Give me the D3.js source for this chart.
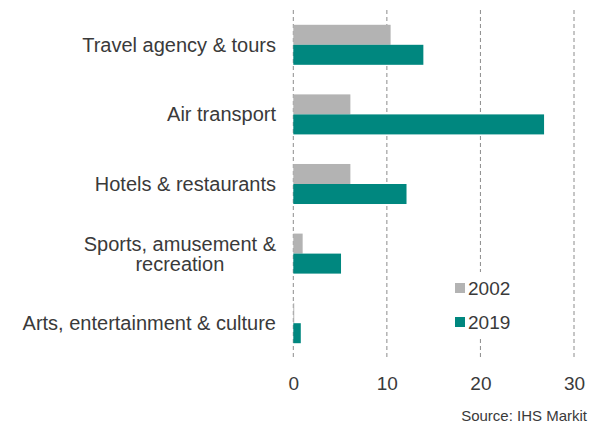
<!DOCTYPE html>
<html>
<head>
<meta charset="utf-8">
<script src="https://cdn.jsdelivr.net/npm/d3@7"></script>
<style>
  body { margin: 0; background: #fff; }
  text { font-family: "Liberation Sans", Arial, sans-serif; fill: #3a3a3a; }
</style>
</head>
<body>
<svg id="chart" width="594" height="427"></svg>
<script>
// chart data
const categories = [
  'Travel agency & tours',
  'Air transport',
  'Hotels & restaurants',
  'Sports, amusement & recreation',
  'Arts, entertainment & culture'
];
const seriesNames = ['2002', '2019'];
const values2002 = [10.4, 6.1, 6.1, 1.0, 0.1];
const values2019 = [13.9, 26.8, 12.1, 5.1, 0.8];
const xTicks = [0, 10, 20, 30];
const sourceText = 'Source: IHS Markit';

// wrapped label lines (as in the original)
const labelLines = {
  'Sports, amusement & recreation': ['Sports, amusement &', 'recreation']
};

const svg = d3.select('#chart');
const colors = { '2002': '#b3b3b3', '2019': '#00877f' };

const x = d3.scaleLinear().domain([0, 30]).range([293.3, 574]);
const y0 = d3.scaleBand().domain(categories).range([10, 358])
  .paddingInner(0.425).paddingOuter(0.2125);
const y1 = d3.scaleBand().domain(seriesNames).range([0, y0.bandwidth()]);

const rows = categories.map((c, i) => ({
  category: c,
  values: [
    { series: '2002', value: values2002[i] },
    { series: '2019', value: values2019[i] }
  ]
}));

// dashed vertical gridlines
svg.append('g').selectAll('line')
  .data(xTicks)
  .join('line')
  .attr('x1', d => x(d)).attr('x2', d => x(d))
  .attr('y1', 10).attr('y2', 360)
  .attr('stroke', '#8c8c8c')
  .attr('stroke-width', 1)
  .attr('stroke-dasharray', '4,3');

// bars
svg.append('g').selectAll('g')
  .data(rows)
  .join('g')
  .attr('transform', d => `translate(0,${y0(d.category)})`)
  .selectAll('rect')
  .data(d => d.values)
  .join('rect')
  .attr('x', x(0))
  .attr('y', d => y1(d.series))
  .attr('width', d => x(d.value) - x(0))
  .attr('height', y1.bandwidth())
  .attr('fill', d => colors[d.series]);

// category labels
const labelG = svg.append('g');
categories.forEach((c) => {
  const lines = labelLines[c] || [c];
  const cy = y0(c) + y0.bandwidth() / 2;
  const lh = 20;
  const t = labelG.append('text')
    .attr('font-size', '20px');
  lines.forEach((ln, j) => {
    t.append('tspan').text(ln)
      .attr('y', cy + (j - (lines.length - 1) / 2) * lh)
      .attr('dy', '0.35em');
  });
  // right-align block, center lines within it
  const widths = t.selectAll('tspan').nodes().map(n => n.getComputedTextLength());
  const maxW = d3.max(widths);
  const centerX = 276 - maxW / 2;
  t.attr('text-anchor', 'middle');
  t.selectAll('tspan').attr('x', centerX);
});

// x axis tick labels
const xAxis = d3.axisBottom(x).tickValues(xTicks).tickSize(0).tickPadding(0);
svg.append('g')
  .attr('transform', 'translate(0,376)')
  .call(xAxis)
  .call(g => g.select('.domain').remove())
  .call(g => g.selectAll('text')
    .attr('font-size', '19px')
    .attr('fill', '#3a3a3a')
    .style('font-family', '"Liberation Sans", Arial, sans-serif'));

// legend
const legend = svg.append('g');
legend.append('rect')
  .attr('x', 450).attr('y', 272).attr('width', 72).attr('height', 67)
  .attr('fill', '#fff');
seriesNames.forEach((s, i) => {
  const cy = 288 + i * 34;
  legend.append('rect')
    .attr('x', 455).attr('y', cy - 5).attr('width', 10).attr('height', 10)
    .attr('fill', colors[s]);
  legend.append('text')
    .attr('x', 468).attr('y', cy).attr('dy', '0.35em')
    .attr('font-size', '19px')
    .text(s);
});

// source note
svg.append('text')
  .attr('x', 587).attr('y', 421)
  .attr('text-anchor', 'end')
  .attr('font-size', '15px')
  .text(sourceText);
</script>
</body>
</html>
